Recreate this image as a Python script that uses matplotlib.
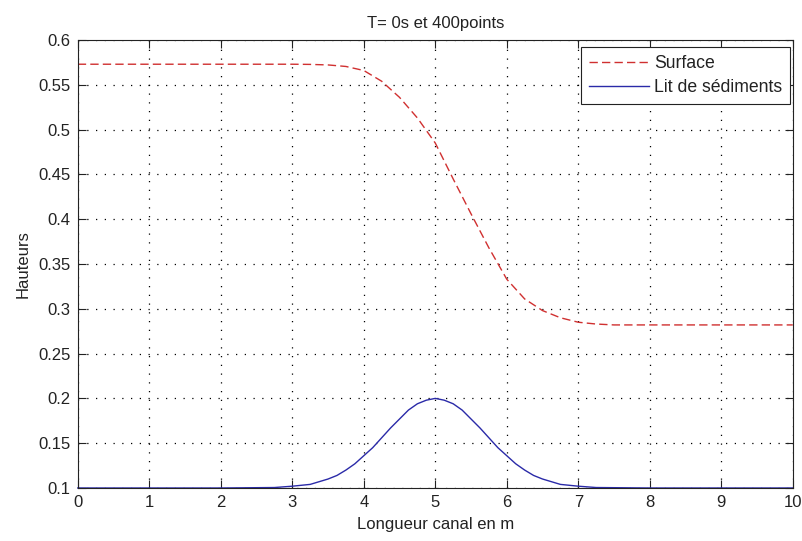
import numpy as np
import matplotlib
matplotlib.use("Agg")
import matplotlib.pyplot as plt

# ── Data ────────────────────────────────────────────────────────────────────
x_surface = [0.0, 0.5, 1.0, 1.5, 2.0, 2.5, 3.0, 3.25, 3.5, 3.75, 4.0, 4.25,
             4.5, 4.75, 5.0, 5.25, 5.5, 5.75, 6.0, 6.25, 6.5, 6.75, 7.0, 7.25,
             7.5, 8.0, 8.5, 9.0, 9.5, 10.0]
surface = [0.573, 0.573, 0.573, 0.573, 0.573, 0.573, 0.573, 0.5728, 0.5722,
           0.5705, 0.566, 0.554, 0.536, 0.513, 0.485, 0.445, 0.406, 0.368,
           0.333, 0.311, 0.298, 0.290, 0.285, 0.283, 0.282, 0.282, 0.282,
           0.282, 0.282, 0.282]

x_sed = [0.0, 1.0, 2.0, 2.75, 3.0, 3.125, 3.25, 3.375, 3.5, 3.625, 3.75,
         3.875, 4.0, 4.125, 4.25, 4.375, 4.5, 4.625, 4.75, 4.875, 5.0, 5.125,
         5.25, 5.375, 5.5, 5.625, 5.75, 5.875, 6.0, 6.125, 6.25, 6.375, 6.5,
         6.625, 6.75, 6.875, 7.0, 7.25, 8.0, 9.0, 10.0]
sediments = [0.100, 0.100, 0.100, 0.1005, 0.102, 0.103, 0.104, 0.107, 0.110,
             0.114, 0.120, 0.127, 0.136, 0.145, 0.156, 0.167, 0.177, 0.187,
             0.194, 0.198, 0.200, 0.198, 0.194, 0.187, 0.177, 0.167, 0.156,
             0.145, 0.136, 0.127, 0.120, 0.114, 0.110, 0.107, 0.104, 0.103,
             0.102, 0.1005, 0.100, 0.100, 0.100]

x_ticks = list(range(0, 11))
y_ticks = [0.1, 0.15, 0.2, 0.25, 0.3, 0.35, 0.4, 0.45, 0.5, 0.55, 0.6]
y_tick_labels = ["0.1", "0.15", "0.2", "0.25", "0.3", "0.35", "0.4", "0.45",
                 "0.5", "0.55", "0.6"]

plt.rcParams["font.family"] = ["Liberation Sans", "DejaVu Sans"]
plt.rcParams["font.size"] = 12

fig = plt.figure(figsize=(8.02, 5.41), dpi=100)
ax = fig.add_axes([0.097, 0.098, 0.8915, 0.828])

ax.plot(x_surface, surface, color="#d03030", linestyle=(0, (6, 3)),
        linewidth=1.0, label="Surface")
ax.plot(x_sed, sediments, color="#2a2aa8", linewidth=1.0, clip_on=False,
        label="Lit de sédiments")

ax.set_xlim(0, 10)
ax.set_ylim(0.1, 0.6)
ax.set_xticks(x_ticks)
ax.set_yticks(y_ticks)
ax.set_yticklabels(y_tick_labels)
ax.tick_params(direction="in", length=6, width=0.8, top=True, right=True,
               pad=5, colors="#222222", labelcolor="#222222")
ax.grid(True, color="black", linestyle=(0, (1, 6)), linewidth=0.9)
for s in ax.spines.values():
    s.set_linewidth(0.8)
    s.set_color("#222222")

ax.set_xlabel("Longueur canal en m", labelpad=5, color="#222222")
ax.set_ylabel("Hauteurs", labelpad=6, color="#222222")
ax.set_title("T= 0s et 400points", fontsize=12, pad=9, color="#222222")

leg = ax.legend(loc="upper right", bbox_to_anchor=(0.9958, 0.984),
                borderaxespad=0, fancybox=False, framealpha=1,
                edgecolor="#222222", handlelength=3.4, handletextpad=0.25,
                labelspacing=0.4, borderpad=0.45, fontsize=12.7)
leg.get_frame().set_linewidth(0.8)
for t in leg.get_texts():
    t.set_color("#222222")

fig.savefig("out.png", dpi=100)
